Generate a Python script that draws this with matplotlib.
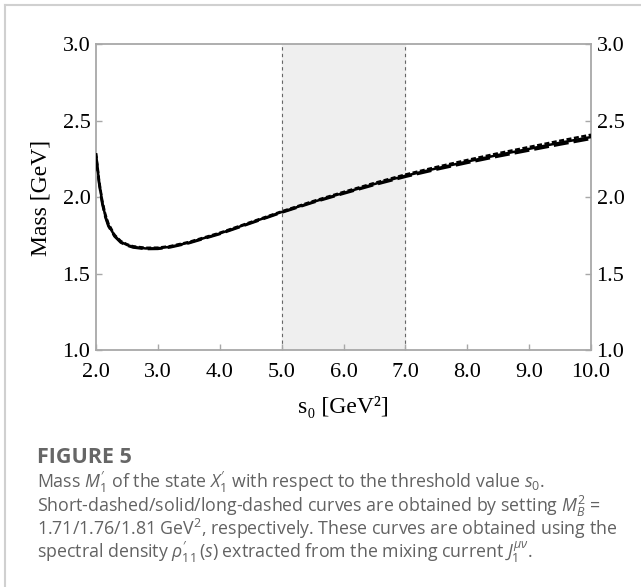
import matplotlib
matplotlib.use("Agg")
import matplotlib.pyplot as plt
from matplotlib.lines import Line2D

# ============================================================
# DATA
# ============================================================

s0 = [2.0, 2.05, 2.1, 2.15, 2.2, 2.3, 2.4, 2.5, 2.6, 2.8, 3.0, 3.2, 3.5,
      4.0, 4.5, 5.0, 5.5, 6.0, 6.5, 7.0, 7.5, 8.0, 8.5, 9.0, 9.5, 10.0]

# M_B^2 = 1.76 GeV^2 (solid)
mass_solid = [2.28, 2.10, 1.97, 1.88, 1.82, 1.75, 1.71, 1.69, 1.677, 1.667,
              1.668, 1.678, 1.705, 1.765, 1.835, 1.905, 1.970, 2.030, 2.088,
              2.142, 2.190, 2.235, 2.278, 2.318, 2.358, 2.395]
# M_B^2 = 1.71 GeV^2 (short-dashed)
mass_short = [2.29, 2.11, 1.98, 1.89, 1.83, 1.755, 1.715, 1.694, 1.681, 1.671,
              1.672, 1.682, 1.709, 1.769, 1.839, 1.909, 1.975, 2.036, 2.095,
              2.150, 2.199, 2.245, 2.289, 2.330, 2.371, 2.410]
# M_B^2 = 1.81 GeV^2 (long-dashed)
mass_long = [2.27, 2.09, 1.96, 1.872, 1.812, 1.745, 1.705, 1.686, 1.673, 1.663,
             1.664, 1.674, 1.701, 1.761, 1.831, 1.901, 1.966, 2.025, 2.082,
             2.135, 2.182, 2.226, 2.268, 2.307, 2.346, 2.383]

window = (5.0, 7.0)
x_ticks = [2.0, 3.0, 4.0, 5.0, 6.0, 7.0, 8.0, 9.0, 10.0]
y_ticks = [1.0, 1.5, 2.0, 2.5, 3.0]

caption_title = "FIGURE 5"
caption_lines = [
    r"Mass $M_1'$ of the state $X_1'$ with respect to the threshold value $s_0$.",
    r"Short-dashed/solid/long-dashed curves are obtained by setting $M_B^2$ =",
    r"1.71/1.76/1.81 GeV$^2$, respectively. These curves are obtained using the",
    r"spectral density $\rho_{11}'\,(s)$ extracted from the mixing current $J_1^{\mu\nu}$.",
]

# ============================================================
# STYLE
# ============================================================

plt.rcParams["font.family"] = ["Liberation Serif", "DejaVu Serif"]
plt.rcParams["mathtext.fontset"] = "custom"
plt.rcParams["mathtext.rm"] = "Open Sans"
plt.rcParams["mathtext.it"] = "Open Sans:italic"
plt.rcParams["mathtext.bf"] = "Open Sans:bold"

SPINE = "#a8a8a8"

fig = plt.figure(figsize=(6.41, 5.87), dpi=100)
ax = fig.add_axes([0.1498, 0.4029, 0.7722, 0.5213])

ax.axvspan(window[0], window[1], color="#efefef", zorder=0)
for xv in window:
    ax.axvline(xv, color="#666666", lw=0.8, ls=(0, (3, 3)), zorder=1)

ax.plot(s0, mass_short, color="black", lw=1.8, ls=(0, (2, 1)), zorder=3)
ax.plot(s0, mass_solid, color="black", lw=1.8, ls="-", zorder=3)
ax.plot(s0, mass_long, color="black", lw=1.8, ls=(0, (6, 2)), zorder=3)

ax.set_xlim(2.0, 10.0)
ax.set_ylim(1.0, 3.0)
ax.set_xticks(x_ticks)
ax.set_xticklabels([f"{v:.1f}" for v in x_ticks])
ax.set_yticks(y_ticks)
ax.set_yticklabels([f"{v:.1f}" for v in y_ticks])

ax.tick_params(axis="x", direction="in", length=4, width=1, color=SPINE,
               labelsize=16, pad=9, top=False)
ax.tick_params(axis="y", direction="in", length=4, width=1, color=SPINE,
               labelsize=16, pad=4, left=True, right=True,
               labelleft=True, labelright=True)

for sp in ax.spines.values():
    sp.set_color(SPINE)
    sp.set_linewidth(1.3)

ax.set_ylabel("Mass [GeV]", fontsize=17, labelpad=8)
ax.set_xlabel("s\u2080 [GeV\u00b2]", fontsize=17, labelpad=10)

# card border (top and left edges)
fig.add_artist(Line2D([4.7 / 641, 1.0], [1 - 4.7 / 587, 1 - 4.7 / 587],
                      transform=fig.transFigure, color="#d0d0d0", lw=1.5))
fig.add_artist(Line2D([4.7 / 641, 4.7 / 641], [0.0, 1 - 4.7 / 587],
                      transform=fig.transFigure, color="#d0d0d0", lw=1.5))

# caption
fig.text(37 / 641, 1 - 463 / 587, caption_title, fontsize=15.5,
         family="Open Sans", weight="bold", color="#666666", va="baseline")
baselines = [488, 512, 535, 558]
for line, yb in zip(caption_lines, baselines):
    fig.text(37 / 641, 1 - yb / 587, line, fontsize=12.8,
             family="Open Sans", color="#626262", va="baseline")

fig.savefig("out.png", dpi=100)
